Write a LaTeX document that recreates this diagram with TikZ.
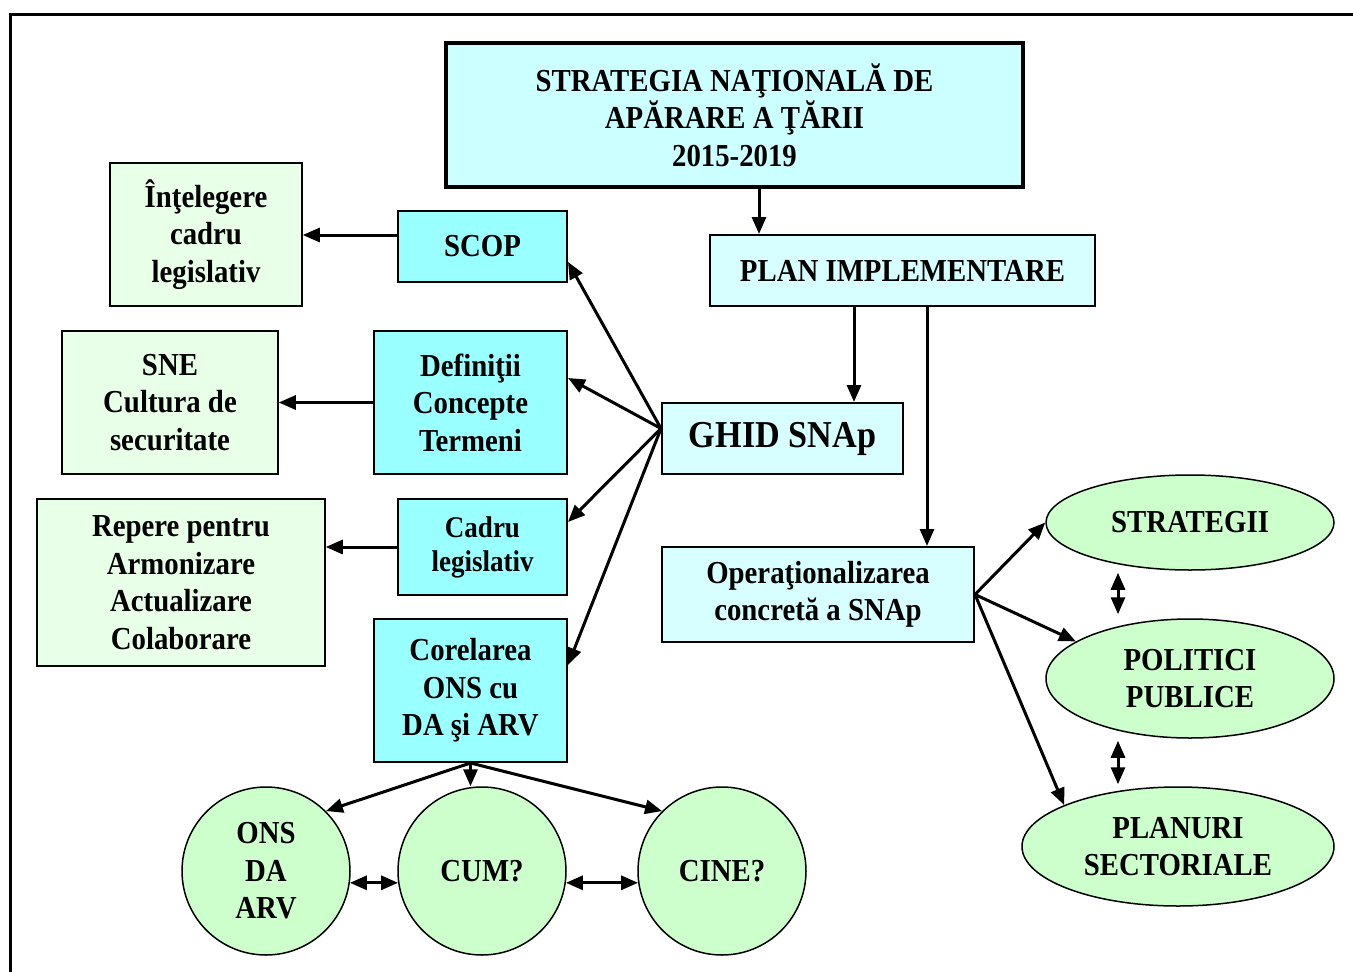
\documentclass[tikz,border=0pt]{standalone}
\usepackage{fontspec}
\setmainfont{Liberation Serif}[FakeStretch=0.9]
\usepackage{xcolor}
\usetikzlibrary{positioning}
\usetikzlibrary{calc}
\usetikzlibrary{arrows.meta}
\usetikzlibrary{shapes.geometric}
\definecolor{titlecyan}{HTML}{CCFFFF}
\definecolor{palecyan}{HTML}{D8FFFF}
\definecolor{brightcyan}{HTML}{99FFFF}
\definecolor{palegreen}{HTML}{E8FFE8}
\definecolor{softgreen}{HTML}{CCFFCC}

\begin{document}
\begin{tikzpicture}[x=1pt, y=-1pt, >={Triangle[length=17pt,width=14pt]}, line width=3pt, font=\fontsize{32}{37.5}\selectfont\bfseries]
    \tikzstyle{titlebox}=[draw=black,rectangle,fill=titlecyan,line width=3.5pt,inner sep=0pt,align=center]
    \tikzstyle{mainbox}=[draw=black,rectangle,fill=palecyan,line width=2pt,inner sep=0pt,align=center]
    \tikzstyle{aimbox}=[draw=black,rectangle,fill=brightcyan,line width=2pt,inner sep=0pt,align=center]
    \tikzstyle{notebox}=[draw=black,rectangle,fill=palegreen,line width=1.5pt,inner sep=0pt,align=center]
    \tikzstyle{bubble}=[draw=black,ellipse,fill=softgreen,line width=1.5pt,inner sep=0pt,align=center]
    \tikzstyle{link}=[->,line width=3pt]
    \tikzstyle{twoway}=[<->,line width=3pt]

    \useasboundingbox (0,0) rectangle (1353,972);
    \draw[line width=3pt] (10,972) |- (1353,14);

    % top of the chain
    \node[titlebox, minimum width=577, minimum height=144] (sna) at (734.5,115) {STRATEGIA NAŢIONALĂ DE\\APĂRARE A ŢĂRII\\2015-2019};
    \node[mainbox, minimum width=385, minimum height=71] (plan) at (902.5,270.5) {PLAN IMPLEMENTARE};
    \node[mainbox, minimum width=241, minimum height=71, font=\fontsize{38}{42}\selectfont\bfseries] (ghid) at (782.5,438.5) {GHID SNAp};
    \node[mainbox, minimum width=312, minimum height=95] (oper) at (818,594.5) {Operaţionalizarea\\concretă a SNAp};

    % left column
    \node[aimbox, minimum width=169, minimum height=71] (scop) at (482.5,246.5) {SCOP};
    \node[aimbox, minimum width=193, minimum height=143] (def) at (470.5,402.5) {Definiţii\\Concepte\\Termeni};
    \node[aimbox, minimum width=169, minimum height=96, font=\fontsize{30}{34}\selectfont\bfseries] (cadru) at (482.5,547) {Cadru\\legislativ};
    \node[aimbox, minimum width=193, minimum height=143] (corel) at (470.5,690.5) {Corelarea\\ONS cu\\DA şi ARV};

    \node[notebox, minimum width=192, minimum height=143] (intel) at (206,234.5) {Înţelegere\\cadru\\legislativ};
    \node[notebox, minimum width=216, minimum height=143] (sne) at (170,402.5) {SNE\\Cultura de\\securitate};
    \node[notebox, minimum width=288, minimum height=167] (repere) at (181,582.5) {Repere pentru\\Armonizare\\Actualizare\\Colaborare};

    % bottom circles
    \node[bubble, minimum width=168, minimum height=168] (ons) at (266,871) {ONS\\DA\\ARV};
    \node[bubble, minimum width=168, minimum height=168] (cum) at (482,871) {CUM?};
    \node[bubble, minimum width=168, minimum height=168] (cine) at (722,871) {CINE?};

    % right ellipses
    \node[bubble, minimum width=288, minimum height=95] (strat) at (1190,522.5) {STRATEGII};
    \node[bubble, minimum width=288, minimum height=119] (polit) at (1190,678.5) {POLITICI\\PUBLICE};
    \node[bubble, minimum width=312, minimum height=119] (planuri) at (1178,846.5) {PLANURI\\SECTORIALE};

    \coordinate (gw) at ([yshift=10pt]ghid.west);

    \path[link] (sna.south -| 759,0) edge (plan.north -| 759,0);
    \path[link] (plan.south -| 854,0) edge (ghid.north -| 854,0);
    \path[link] (plan.south -| 927,0) edge (oper.north -| 927,0);

    \path[link] (gw) edge ([yshift=-15.5pt]scop.east);
    \path[link] (gw) edge ([yshift=24.5pt]def.east);
    \path[link] (gw) edge ([yshift=25pt]cadru.east);
    \path[link] (gw) edge ([yshift=25.5pt]corel.east);

    \path[link] ([yshift=11.5pt]scop.west) edge ([yshift=11.5pt]scop.west -| intel.east);
    \path[link] (def.west) edge (def.west -| sne.east);
    \path[link] (cadru.west) edge (cadru.west -| repere.east);

    \path[link] (corel.south) edge (ons.45);
    \path[link] (corel.south) edge (corel.south |- cum.north);
    \path[link] (corel.south) edge (cine.135);
    \path[twoway] (ons.-8) edge (cum.188);
    \path[twoway] (cum.-8) edge (cine.188);

    \path[link] (oper.east) edge (strat.west);
    \path[link] (oper.east) edge (polit.162);
    \path[link] (oper.east) edge (planuri.160);
    \path[twoway] ([xshift=-72pt,yshift=-2pt]strat.south) edge ([xshift=-72pt,yshift=4pt]polit.north);
    \path[twoway] ([xshift=-72pt,yshift=-2pt]polit.south) edge ([xshift=-60pt,yshift=2pt]planuri.north);
\end{tikzpicture}
\end{document}
